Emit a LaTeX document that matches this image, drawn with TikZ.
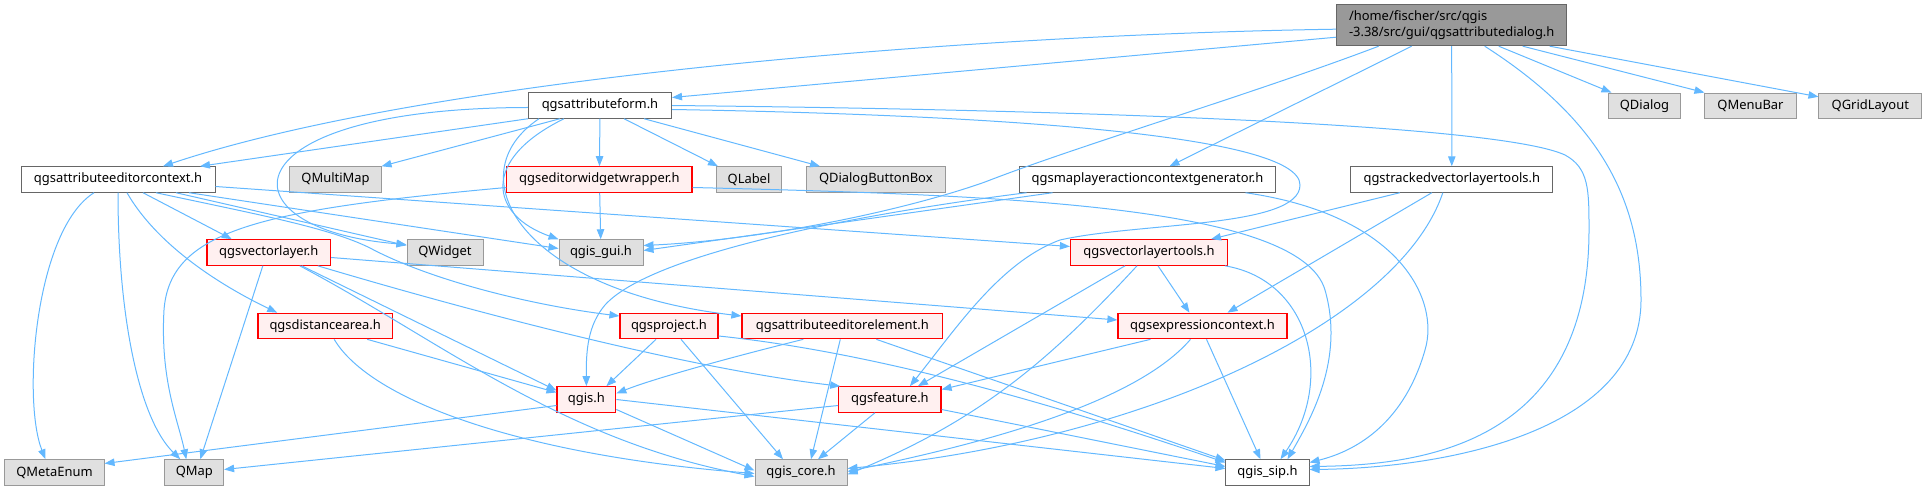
\documentclass[tikz,border=0pt]{standalone}
\usepackage{xcolor}
\usepackage{fontspec}
\setmainfont{Noto Sans}
\usetikzlibrary{arrows.meta,calc}

\definecolor{lien}{HTML}{63B8FF}
\definecolor{fondrouge}{HTML}{FFF0F0}
\definecolor{fondgris}{HTML}{E0E0E0}
\definecolor{traitgris}{HTML}{999999}
\definecolor{traitfonce}{HTML}{666666}

\tikzset{
  fichier/.style={draw=traitfonce, fill=white, line width=0.75pt, minimum height=19.1pt,
    inner sep=0pt, font=\fontsize{9.7}{12}\selectfont},
  sysfile/.style={fichier, draw=traitgris, fill=fondgris},
  redfile/.style={fichier, draw=red, fill=fondrouge, line width=0.9pt},
  rootfile/.style={fichier, draw=traitfonce, fill=traitgris, align=left},
  dep/.style={draw=lien, line width=0.75pt, -{Triangle[length=7.5pt,width=5.6pt]}}
}

\begin{document}
\begin{tikzpicture}[x=0.75pt,y=-0.75pt]
    \useasboundingbox (0,0) rectangle (1927,491);
    % les fichiers, en pixels de l'image
    \node[rootfile, minimum width=172.5pt, minimum height=30.75pt] (main) at (1451.7,25.2) {/home/fischer/src/qgis\\-3.38/src/gui/qgsattributedialog.h};
    \node[fichier, minimum width=107.3pt] (form) at (600,105.5) {qgsattributeform.h};
    \node[sysfile, minimum width=53.3pt] (qdialog) at (1644.5,105.8) {QDialog};
    \node[sysfile, minimum width=68.3pt] (qmenubar) at (1750.5,105.8) {QMenuBar};
    \node[sysfile, minimum width=77pt] (qgrid) at (1870.3,105.8) {QGridLayout};
    \node[fichier, minimum width=145.5pt] (ctx) at (118,179.5) {qgsattributeeditorcontext.h};
    \node[sysfile, minimum width=68.3pt] (qmultimap) at (335.5,179.5) {QMultiMap};
    \node[redfile, minimum width=138.8pt] (wrapper) at (599.4,179.5) {qgseditorwidgetwrapper.h};
    \node[sysfile, minimum width=48.8pt] (qlabel) at (749,179.5) {QLabel};
    \node[sysfile, minimum width=103.9pt] (qbuttons) at (875.8,179.5) {QDialogButtonBox};
    \node[fichier, minimum width=192pt] (maplayer) at (1147.5,179.5) {qgsmaplayeractioncontextgenerator.h};
    \node[fichier, minimum width=151.5pt] (tracked) at (1451.8,179.5) {qgstrackedvectorlayertools.h};
    \node[redfile, minimum width=92.6pt] (vlayer) at (268.8,252.5) {qgsvectorlayer.h};
    \node[sysfile, minimum width=57pt] (qwidget) at (445,252.5) {QWidget};
    \node[sysfile, minimum width=63pt] (qgisgui) at (601,252.5) {qgis\_gui.h};
    \node[redfile, minimum width=117.8pt] (vltools) at (1149,252.5) {qgsvectorlayertools.h};
    \node[redfile, minimum width=100.9pt] (distarea) at (325.2,326) {qgsdistancearea.h};
    \node[redfile, minimum width=73.5pt] (project) at (669,326) {qgsproject.h};
    \node[redfile, minimum width=150.5pt] (element) at (842.3,326) {qgsattributeeditorelement.h};
    \node[redfile, minimum width=126.8pt] (expr) at (1202.5,326) {qgsexpressioncontext.h};
    \node[redfile, minimum width=44pt] (qgis) at (586.4,399.5) {qgis.h};
    \node[redfile, minimum width=76.7pt] (feature) at (889.9,399.5) {qgsfeature.h};
    \node[sysfile, minimum width=74.3pt] (qmetaenum) at (54.5,472.5) {QMetaEnum};
    \node[sysfile, minimum width=44pt] (qmap) at (194.3,472.5) {QMap};
    \node[sysfile, minimum width=69pt] (core) at (801,472.5) {qgis\_core.h};
    \node[fichier, minimum width=62.3pt] (sip) at (1267.5,472.5) {qgis\_sip.h};

    % qgsattributedialog.h
    \draw[dep] ($(main.west)+(0,12)$) -- ($(form.east)+(0,-8)$);
    \draw[dep] ($(main.west)+(0,4)$) .. controls (950,35) and (420,80) .. ($(ctx.north)+(45,0)$);
    \draw[dep] ($(main.south)+(-73,0)$) .. controls (1250,95) and (1080,145) .. (985,182) .. controls (900,212) and (760,240) .. ($(qgisgui.east)+(0,-7)$);
    \draw[dep] ($(main.south)+(-40,0)$) -- ($(maplayer.north)+(22,0)$);
    \draw[dep] (main) -- (tracked);
    \draw[dep] ($(main.south)+(33,0)$) .. controls (1600,120) and (1641,200) .. (1641,300) .. controls (1641,430) and (1450,468) .. ($(sip.east)+(0,-3)$);
    \draw[dep] ($(main.south)+(47,0)$) -- ($(qdialog.north west)+(3,0)$);
    \draw[dep] ($(main.south)+(71,0)$) -- (qmenubar.north west);
    \draw[dep] ($(main.south)+(98,0)$) -- ($(qgrid.west)+(0,-9)$);

    % qgsattributeform.h
    \draw[dep] (form.south west) -- ($(ctx.north)+(82,0)$);
    \draw[dep] ($(form.south)+(-40,0)$) -- (qmultimap.north east);
    \draw[dep] ($(form.west)+(0,2)$) .. controls (220,108) and (220,230) .. ($(qwidget.west)+(0,-8)$);
    \draw[dep] ($(form.south)+(-36,0)$) .. controls (480,160) and (490,215) .. (qgisgui.north west);
    \draw[dep] ($(form.south)+(-61,0)$) .. controls (455,175) and (520,290) .. ($(element.west)+(0,-10)$);
    \draw[dep] (form) -- (wrapper);
    \draw[dep] ($(form.south)+(24,0)$) -- ($(qlabel.north west)+(2,0)$);
    \draw[dep] ($(form.south)+(44,0)$) -- ($(qbuttons.north west)+(14,0)$);
    \draw[dep] ($(form.east)+(0,4)$) .. controls (1000,115) and (1300,135) .. (1300,185) .. controls (1300,228) and (1140,222) .. (1060,240) .. controls (1000,262) and (955,330) .. ($(feature.north)+(20,0)$);
    \draw[dep] (form.east) .. controls (1100,110) and (1500,125) .. (1565,155) .. controls (1589,168) and (1589,190) .. (1589,230) .. controls (1589,440) and (1430,465) .. ($(sip.east)+(0,-6)$);

    % qgsattributeeditorcontext.h
    \draw[dep] ($(ctx.south)+(-24,0)$) .. controls (35,230) and (22,400) .. ($(qmetaenum.north)+(-9,0)$);
    \draw[dep] (ctx.south) .. controls (118,320) and (140,420) .. ($(qmap.north)+(-14,0)$);
    \draw[dep] ($(ctx.south)+(9,0)$) .. controls (160,250) and (230,290) .. ($(distarea.north)+(-48,0)$);
    \draw[dep] ($(ctx.south)+(25,0)$) -- ($(vlayer.north)+(-37,0)$);
    \draw[dep] ($(ctx.south)+(58,0)$) -- ($(qwidget.west)+(0,-7)$);
    \draw[dep] ($(ctx.south)+(38,0)$) .. controls (260,215) and (330,228) .. (370,248) .. controls (430,280) and (530,305) .. ($(project.west)+(0,-10)$);
    \draw[dep] ($(ctx.south)+(71,0)$) -- ($(qgisgui.west)+(0,-4)$);
    \draw[dep] ($(ctx.east)+(0,7)$) -- ($(vltools.west)+(0,-6)$);

    % qgseditorwidgetwrapper.h
    \draw[dep] (wrapper) -- (qgisgui);
    \draw[dep] ($(wrapper.west)+(0,8)$) .. controls (260,210) and (170,230) .. (164,310) .. controls (160,380) and (178,420) .. ($(qmap.north)+(-8,0)$);
    \draw[dep] ($(wrapper.east)+(0,8)$) .. controls (1000,195) and (1300,205) .. (1325,290) .. controls (1345,360) and (1310,420) .. ($(sip.north)+(20,0)$);

    % qgsmaplayeractioncontextgenerator.h
    \draw[dep] ($(maplayer.south)+(-95,0)$) -- ($(qgisgui.east)+(0,-2)$);
    \draw[dep] ($(maplayer.south)+(-121,0)$) .. controls (850,215) and (650,255) .. (605,305) .. controls (588,325) and (586,350) .. (qgis.north);
    \draw[dep] ($(maplayer.south)+(98,0)$) .. controls (1400,215) and (1440,300) .. (1425,350) .. controls (1405,420) and (1360,450) .. ($(sip.east)+(0,-10)$);

    % qgstrackedvectorlayertools.h
    \draw[dep] ($(tracked.south)+(-52,0)$) -- ($(vltools.north)+(62,0)$);
    \draw[dep] ($(tracked.south)+(-20,0)$) -- ($(expr.north)+(25,0)$);
    \draw[dep] ($(tracked.south)+(-9,0)$) .. controls (1400,320) and (1150,440) .. ($(core.east)+(0,-4)$);

    % qgsvectorlayer.h
    \draw[dep] ($(vlayer.south)+(-6,0)$) -- ($(qmap.north)+(6,0)$);
    \draw[dep] ($(vlayer.south)+(33,0)$) -- ($(qgis.west)+(0,-9)$);
    \draw[dep] ($(vlayer.south)+(31,0)$) .. controls (440,340) and (560,440) .. ($(core.west)+(0,4)$);
    \draw[dep] ($(vlayer.south)+(49,0)$) .. controls (500,320) and (700,370) .. ($(feature.north west)+(2,0)$);
    \draw[dep] ($(vlayer.east)+(0,5)$) -- ($(expr.west)+(0,-6)$);

    % qgsdistancearea.h
    \draw[dep] ($(distarea.south)+(42,0)$) -- ($(qgis.west)+(0,-7)$);
    \draw[dep] ($(distarea.south)+(9,0)$) .. controls (370,400) and (520,455) .. ($(core.west)+(0,1)$);

    % qgsproject.h
    \draw[dep] ($(project.south)+(-13,0)$) -- ($(qgis.north east)+(-10,0)$);
    \draw[dep] ($(project.south)+(12,0)$) -- ($(core.north)+(-18,0)$);
    \draw[dep] ($(project.east)+(0,10)$) .. controls (900,355) and (1100,420) .. ($(sip.west)+(0,-10)$);

    % qgsattributeeditorelement.h
    \draw[dep] ($(element.south)+(-39,0)$) .. controls (720,360) and (650,380) .. ($(qgis.east)+(0,-6)$);
    \draw[dep] ($(element.south)+(-2,0)$) -- ($(core.north)+(10,0)$);
    \draw[dep] ($(element.south)+(34,0)$) -- ($(sip.west)+(0,-12)$);

    % qgsexpressioncontext.h
    \draw[dep] ($(expr.south)+(-52,0)$) -- ($(feature.east)+(0,-10)$);
    \draw[dep] ($(expr.south)+(-12,0)$) .. controls (1130,410) and (950,450) .. ($(core.east)+(0,-1)$);
    \draw[dep] ($(expr.south)+(4,0)$) -- ($(sip.north)+(-7,0)$);

    % qgis.h
    \draw[dep] ($(qgis.west)+(0,6)$) -- ($(qmetaenum.east)+(0,-9)$);
    \draw[dep] ($(qgis.east)+(0,10)$) -- ($(core.west)+(0,-2)$);
    \draw[dep] (qgis.east) -- ($(sip.west)+(0,-4)$);

    % qgsfeature.h
    \draw[dep] ($(feature.west)+(0,6)$) -- ($(qmap.east)+(0,-3)$);
    \draw[dep] ($(feature.south)+(-15,0)$) -- ($(core.north)+(17,0)$);
    \draw[dep] ($(feature.east)+(0,10)$) -- ($(sip.west)+(0,-6)$);

    % qgsvectorlayertools.h
    \draw[dep] ($(vltools.south)+(9,0)$) -- ($(expr.north)+(-13,0)$);
    \draw[dep] ($(vltools.south)+(-24,0)$) -- ($(feature.north)+(28,0)$);
    \draw[dep] ($(vltools.south)+(-12,0)$) .. controls (1050,360) and (980,420) .. ($(core.east)+(0,2)$);
    \draw[dep] ($(vltools.south)+(76,0)$) .. controls (1310,280) and (1335,380) .. ($(sip.north)+(13,0)$);
\end{tikzpicture}
\end{document}
